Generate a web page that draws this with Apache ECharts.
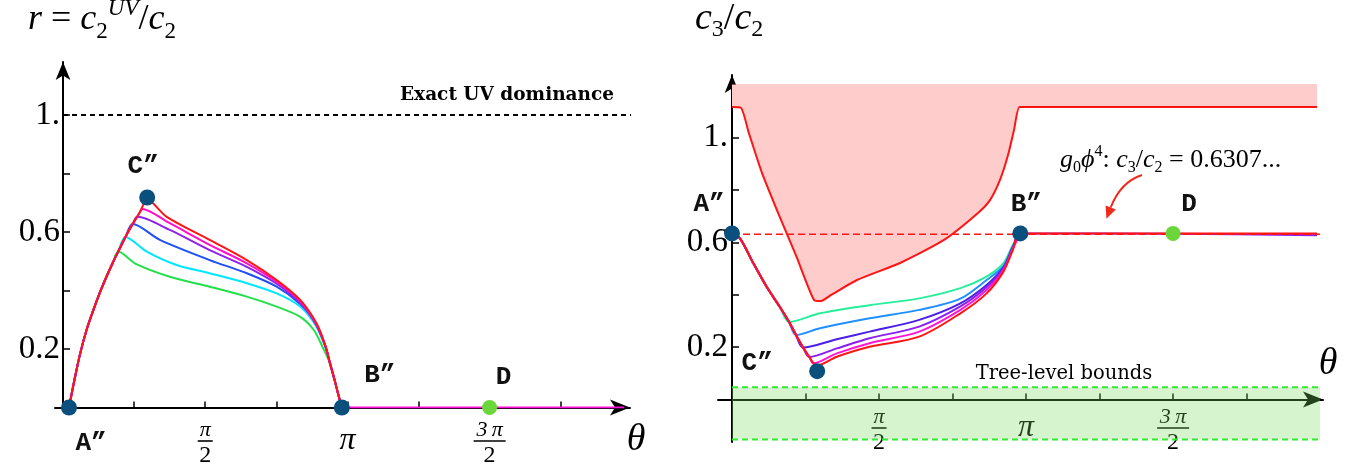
<!DOCTYPE html>
<html>
<head>
<meta charset="utf-8">
<script src="https://cdn.jsdelivr.net/npm/echarts@6/dist/echarts.min.js"></script>
<style>
  html, body { margin: 0; padding: 0; background: #fff; }
  #chart { width: 1364px; height: 469px; }
</style>
</head>
<body>
<div id="chart"></div>
<script>
const PI = Math.PI;

// ---------- shared θ axis ----------
const thetaTicks = [PI / 4, PI / 2, 3 * PI / 4, PI, 5 * PI / 4, 3 * PI / 2, 7 * PI / 4];
const thetaLabelValues = [PI / 2, PI, 3 * PI / 2];
const thetaLabelParts = [['π', '2'], ['π'], ['3\u2009π', '2']];

// ---------- vertical axes ----------
const yTicks = [0.2, 0.4, 0.6, 0.8, 1.0];
const yLabelValues = [0.2, 0.6, 1.0];
const yLabelTexts = ['0.2', '0.6', '1.'];

// ---------- left panel: r = c2^UV / c2 ----------
const rRise = [[0.066, 0], [0.13, 0.1], [0.19, 0.185], [0.26, 0.265], [0.335, 0.333], [0.41, 0.395],
  [0.48, 0.447], [0.55, 0.495], [0.61, 0.533], [0.69, 0.583], [0.77, 0.627], [0.85, 0.668], [0.93, 0.71]];
const rGreen = [[0.61, 0.533], [0.81, 0.49], [1.18, 0.447], [1.62, 0.413], [2.03, 0.379], [2.36, 0.345],
  [2.62, 0.31], [2.77, 0.265], [2.87, 0.205]];
const rCyan = [[0.69, 0.583], [0.925, 0.533], [1.256, 0.487], [1.62, 0.459], [2.03, 0.425], [2.36, 0.39],
  [2.62, 0.345], [2.80, 0.276], [2.90, 0.205]];
const rBlue = [[0.77, 0.627], [1.07, 0.573], [1.62, 0.504], [2.03, 0.459], [2.36, 0.413], [2.62, 0.354],
  [2.77, 0.299], [2.90, 0.207]];
const rPurple = [[0.82, 0.652], [1.18, 0.607], [1.62, 0.538], [2.03, 0.481], [2.36, 0.423], [2.62, 0.358],
  [2.80, 0.282], [2.90, 0.208]];
const rMagenta = [[0.87, 0.679], [1.18, 0.63], [1.62, 0.556], [2.03, 0.493], [2.36, 0.43], [2.62, 0.363],
  [2.80, 0.285], [2.90, 0.209]];
const rRed = [[0.93, 0.71], [1.146, 0.652], [1.62, 0.573], [2.03, 0.504], [2.36, 0.436], [2.62, 0.368],
  [2.80, 0.288], [2.90, 0.21]];
const rTail = [[2.95, 0.15], [3.0, 0.094], [3.04, 0.045], [3.08, 0]];
const rFlat = [[3.08, 0], [6.2, 0]];
const rUVLine = [[0, 1], [6.385, 1]];
const rDots = [[0.066, 0], [0.93, 0.718], [3.08, 0]];
const rDotNames = ['A”', 'C”', 'B”'];
const rPointD = [4.712, 0];

// ---------- right panel: c3 / c2 ----------
const cDescent = [[0.0, 0.634], [0.085, 0.615], [0.228, 0.52], [0.37, 0.43], [0.51, 0.354], [0.61, 0.296],
  [0.684, 0.246], [0.76, 0.198], [0.826, 0.162], [0.87, 0.138], [0.89, 0.128]];
const cGreen = [[0.61, 0.296], [0.94, 0.329], [1.47, 0.36], [2.0, 0.386], [2.44, 0.425], [2.72, 0.469],
  [2.9, 0.52], [3.0, 0.59], [3.08, 0.634]];
const cSky = [[0.684, 0.246], [0.94, 0.272], [1.47, 0.31], [2.0, 0.342], [2.44, 0.385], [2.72, 0.456],
  [2.9, 0.509], [3.0, 0.585], [3.08, 0.634]];
const cIndigo = [[0.76, 0.198], [1.12, 0.23], [1.47, 0.259], [2.0, 0.304], [2.44, 0.367], [2.72, 0.437],
  [2.9, 0.504], [3.0, 0.58], [3.08, 0.634]];
const cPurple = [[0.826, 0.162], [1.12, 0.195], [1.47, 0.234], [2.0, 0.278], [2.44, 0.355], [2.72, 0.428],
  [2.9, 0.5], [3.0, 0.578], [3.08, 0.634], [4.71, 0.633], [6.25, 0.627]];
const cMagenta = [[0.87, 0.138], [1.12, 0.176], [1.47, 0.215], [2.0, 0.259], [2.44, 0.342], [2.72, 0.418],
  [2.9, 0.494], [3.0, 0.575], [3.08, 0.634]];
const cRed = [[0.89, 0.128], [1.12, 0.163], [1.47, 0.201], [2.0, 0.24], [2.44, 0.329], [2.72, 0.405],
  [2.9, 0.488], [3.0, 0.57], [3.08, 0.634], [4.71, 0.634], [6.25, 0.634]];
const cUpper = [[0.0, 1.116], [0.096, 1.113], [0.18, 1.017], [0.32, 0.865], [0.51, 0.697], [0.69, 0.544],
  [0.876, 0.38], [0.95, 0.376], [1.06, 0.399], [1.335, 0.456], [1.795, 0.521], [2.265, 0.609],
  [2.628, 0.712], [2.756, 0.761], [2.863, 0.838], [2.949, 0.933], [3.013, 1.029], [3.072, 1.116],
  [3.2, 1.116], [6.25, 1.116]];
const cBandTop = 1.2;
const cPhi4 = 0.6307;
const cPhi4Span = [0, 2 * PI];
const treeBounds = [-0.153, 0.047];
const treeSpan = [0, 2 * PI];
const cDots = [[0.0, 0.634], [0.91, 0.108], [3.08, 0.634]];
const cDotNames = ['A”', 'C”', 'B”'];
const cPointD = [4.712, 0.634];
// annotation arrow: start, control, tip (θ, value)
const cArrow = [4.38, 0.857, 4.15, 0.83, 4.0, 0.69];

// ---------- styles ----------
const SERIF = 'Liberation Serif';
const DOT_BLUE = '#0b4f7d';
const DOT_GREEN = '#6ad63a';
const RED = '#ff1414';
const leftDotOffsets = [[22, 36], [-4, -31], [38, -32]];
const leftDOffset = [14, -30];
const rightDotOffsets = [[-23, -29], [-60, -8], [6, -29]];
const rightDOffset = [16, -29];

const dotLabelStyle = { fontFamily: 'Liberation Mono', fontWeight: 'bold', fontSize: 26, color: '#111' };

function buildCurve(base, own, tail) {
  const pts = base.filter(p => p[0] < own[0][0]).concat(own);
  return tail ? pts.concat(tail) : pts;
}

function fracLabel(parts) {
  if (!parts) return '';
  if (parts.length === 1) return '{p|' + parts[0] + '}';
  const bar = parts[0].length > 1 ? 'bw' : 'bn';
  return '{n|' + parts[0] + '}\n{' + bar + '| }\n{d|' + parts[1] + '}';
}

// axis labels of an on-zero axis are laid out from the grid edge, so margins
// are measured from there
function thetaAxis(gridIndex, min, max, margin) {
  return {
    type: 'value', gridIndex, min, max,
    splitLine: { show: false },
    axisLine: { show: true, onZero: true, symbol: ['none', 'arrow'], symbolSize: [12, 20],
      lineStyle: { color: '#000', width: 2 } },
    axisTick: { show: true, inside: true, length: 6, customValues: thetaTicks,
      lineStyle: { color: '#000', width: 1.5 } },
    axisLabel: {
      show: true, customValues: thetaLabelValues, margin, color: '#000',
      formatter: v => fracLabel(thetaLabelParts[thetaLabelValues.findIndex(t => Math.abs(t - v) < 1e-6)]),
      rich: {
        n: { fontFamily: SERIF, fontStyle: 'italic', fontSize: 22, lineHeight: 16, color: '#000' },
        bn: { width: 15, height: 1.6, lineHeight: 6, fontSize: 1, backgroundColor: '#000' },
        bw: { width: 32, height: 1.6, lineHeight: 6, fontSize: 1, backgroundColor: '#000' },
        d: { fontFamily: SERIF, fontSize: 24, lineHeight: 24, color: '#000' },
        p: { fontFamily: SERIF, fontStyle: 'italic', fontSize: 32, lineHeight: 38, color: '#000' }
      }
    }
  };
}

function valueAxis(gridIndex, min, max, margin) {
  return {
    type: 'value', gridIndex, min, max,
    splitLine: { show: false },
    axisLine: { show: true, onZero: true, symbol: ['none', 'arrow'], symbolSize: [11, 18],
      lineStyle: { color: '#000', width: 2 } },
    axisTick: { show: true, inside: true, length: 7, customValues: yTicks,
      lineStyle: { color: '#000', width: 1.5 } },
    axisLabel: {
      show: true, customValues: yLabelValues, margin, color: '#000',
      fontFamily: SERIF, fontSize: 33,
      formatter: v => yLabelTexts[yLabelValues.findIndex(t => Math.abs(t - v) < 1e-6)] || ''
    }
  };
}

function curve(axis, data, color, z) {
  return {
    type: 'line', xAxisIndex: axis, yAxisIndex: axis, data,
    showSymbol: false, symbol: 'none', smooth: 0.3, silent: true, z: z || 3,
    lineStyle: { color, width: 2 }
  };
}

function dots(axis, pts, names, offsets) {
  return {
    type: 'scatter', xAxisIndex: axis, yAxisIndex: axis, z: 6, silent: true,
    symbolSize: 16, itemStyle: { color: DOT_BLUE, opacity: 1 },
    data: pts.map((p, i) => ({
      value: p, name: names[i],
      label: Object.assign({ show: true, position: 'inside', offset: offsets[i], formatter: '{b}' }, dotLabelStyle)
    }))
  };
}

function greenDot(axis, p, offset) {
  return {
    type: 'scatter', xAxisIndex: axis, yAxisIndex: axis, z: 6, silent: true,
    symbolSize: 15, itemStyle: { color: DOT_GREEN, opacity: 1 },
    data: [{ value: p, name: 'D',
      label: Object.assign({ show: true, position: 'inside', offset, formatter: '{b}' }, dotLabelStyle) }]
  };
}

const leftSeries = [
  { type: 'line', xAxisIndex: 0, yAxisIndex: 0, data: rUVLine, symbol: 'none', silent: true, clip: false,
    lineStyle: { color: '#000', width: 2, type: [5, 4] } },
  curve(0, buildCurve(rRise, rGreen, rTail), '#22e04a'),
  curve(0, buildCurve(rRise, rCyan, rTail), '#00e6ff'),
  curve(0, buildCurve(rRise, rBlue, rTail), '#1f4ff5'),
  curve(0, buildCurve(rRise, rPurple, rTail), '#8f22e8'),
  curve(0, buildCurve(rRise, rMagenta, rTail), '#ff10c8'),
  curve(0, buildCurve(rRise, rRed, rTail), RED),
  curve(0, rFlat, '#ff10d8', 4),
  dots(0, rDots, rDotNames, leftDotOffsets),
  greenDot(0, rPointD, leftDOffset)
];

const rightSeries = [
  // excluded region between the upper bound and the band top
  { type: 'line', xAxisIndex: 1, yAxisIndex: 1, symbol: 'none', silent: true, z: 3, smooth: 0.2,
    data: cUpper, lineStyle: { color: RED, width: 2 },
    areaStyle: { origin: cBandTop, color: '#ffcccc', opacity: 1 } },
  { type: 'line', xAxisIndex: 1, yAxisIndex: 1, symbol: 'none', silent: true, z: 2,
    data: [[cUpper[0][0], cBandTop], [cUpper[cUpper.length - 1][0], cBandTop]],
    lineStyle: { color: '#f6a3a3', width: 1.2 } },
  // tree-level band
  { type: 'line', xAxisIndex: 1, yAxisIndex: 1, symbol: 'none', silent: true, z: 3,
    data: [[treeSpan[0], treeBounds[0]], [treeSpan[1], treeBounds[0]]],
    lineStyle: { color: '#35e835', width: 2, type: [6, 4] },
    markArea: { silent: true, itemStyle: { color: 'rgba(120,220,90,0.3)' },
      data: [[{ xAxis: treeSpan[0], yAxis: treeBounds[0] }, { xAxis: treeSpan[1], yAxis: treeBounds[1] }]] } },
  { type: 'line', xAxisIndex: 1, yAxisIndex: 1, symbol: 'none', silent: true, z: 3,
    data: [[treeSpan[0], treeBounds[1]], [treeSpan[1], treeBounds[1]]],
    lineStyle: { color: '#35e835', width: 2, type: [6, 4] } },
  curve(1, buildCurve(cDescent, cGreen), '#26ef9c'),
  curve(1, buildCurve(cDescent, cSky), '#1e90ff'),
  curve(1, buildCurve(cDescent, cIndigo), '#4b1fe6'),
  curve(1, buildCurve(cDescent, cPurple), '#8b1ff0'),
  curve(1, buildCurve(cDescent, cMagenta), '#ff16d2'),
  curve(1, buildCurve(cDescent, cRed), RED),
  { type: 'line', xAxisIndex: 1, yAxisIndex: 1, symbol: 'none', silent: true, z: 4,
    data: [[cPhi4Span[0], cPhi4], [cPhi4Span[1], cPhi4]],
    lineStyle: { color: RED, width: 1.6, type: [7, 4] } },
  // curved pointer to the g0 φ^4 line
  {
    type: 'custom', xAxisIndex: 1, yAxisIndex: 1, silent: true, z: 5,
    data: [cArrow],
    encode: { x: [0, 2, 4], y: [1, 3, 5] },
    renderItem: (params, api) => {
      const p0 = api.coord([api.value(0), api.value(1)]);
      const c = api.coord([api.value(2), api.value(3)]);
      const p1 = api.coord([api.value(4), api.value(5)]);
      let dx = p1[0] - c[0], dy = p1[1] - c[1];
      const len = Math.hypot(dx, dy); dx /= len; dy /= len;
      const hl = 12, hw = 5.5;
      const b = [p1[0] - dx * hl, p1[1] - dy * hl];
      return {
        type: 'group', children: [
          { type: 'bezierCurve', shape: { x1: p0[0], y1: p0[1], x2: b[0], y2: b[1], cpx1: c[0], cpy1: c[1] },
            style: { stroke: '#f02a1a', lineWidth: 2, fill: null } },
          { type: 'polygon', shape: { points: [p1, [b[0] - dy * hw, b[1] + dx * hw], [b[0] + dy * hw, b[1] - dx * hw]] },
            style: { fill: '#f02a1a' } }
        ]
      };
    }
  },
  dots(1, cDots, cDotNames, rightDotOffsets),
  greenDot(1, cPointD, rightDOffset)
];

const mathRich = (size, sub, color) => ({
  i: { fontFamily: SERIF, fontStyle: 'italic', fontSize: size, color },
  m: { fontFamily: SERIF, fontSize: size, color },
  s: { fontFamily: SERIF, fontSize: sub, verticalAlign: 'bottom', color },
  si: { fontFamily: SERIF, fontStyle: 'italic', fontSize: sub, verticalAlign: 'top', color },
  sp: { fontFamily: SERIF, fontSize: sub, verticalAlign: 'top', color }
});

const graphic = [
  { type: 'text', x: 28, y: 20, z: 10, style: {
      text: '{i|r}{m| = }{i|c}{s|2}{si|UV}{m|/}{i|c}{s|2}',
      textVerticalAlign: 'middle', lineHeight: 46, rich: mathRich(36, 23, '#000') } },
  { type: 'text', x: 695, y: 19, z: 10, style: {
      text: '{i|c}{s|3}{m|/}{i|c}{s|2}',
      textVerticalAlign: 'middle', lineHeight: 46, rich: mathRich(38, 24, '#000') } },
  { type: 'text', x: 636, y: 440, z: 10, style: {
      text: 'θ', fontFamily: SERIF, fontStyle: 'italic', fontSize: 38, fill: '#000',
      textAlign: 'center', textVerticalAlign: 'middle' } },
  { type: 'text', x: 1328, y: 364, z: 10, style: {
      text: 'θ', fontFamily: SERIF, fontStyle: 'italic', fontSize: 38, fill: '#000',
      textAlign: 'center', textVerticalAlign: 'middle' } },
  { type: 'text', x: 400, y: 95, z: 10, style: {
      text: 'Exact UV dominance', fontFamily: 'DejaVu Serif', fontWeight: 'bold', fontSize: 18.5, fill: '#000',
      textAlign: 'left', textVerticalAlign: 'middle' } },
  { type: 'text', x: 1064, y: 374, z: 10, style: {
      text: 'Tree-level bounds', fontFamily: 'DejaVu Serif', fontSize: 19.5, fill: '#000',
      textAlign: 'center', textVerticalAlign: 'middle' } },
  { type: 'text', x: 1060, y: 160, z: 10, style: {
      text: '{i|g}{s|0}{i|ϕ}{sp|4}{m|: }{i|c}{s|3}{m|/}{i|c}{s|2}{m| = 0.6307...}',
      textVerticalAlign: 'middle', lineHeight: 32, rich: mathRich(26, 16, '#f03326') } }
];

const option = {
  animation: false,
  backgroundColor: '#fff',
  grid: [
    { left: 55, top: 62, width: 575, height: 345.5, containLabel: false, outerBoundsMode: 'none' },
    { left: 718, top: 75, width: 605, height: 367, containLabel: false, outerBoundsMode: 'none' }
  ],
  xAxis: [thetaAxis(0, -0.0884, 6.263, 14.5), thetaAxis(1, -0.1496, 6.314, -33)],
  yAxis: [valueAxis(0, 0, 1.1812, -5), valueAxis(1, -0.1622, 1.2385, -10)],
  graphic,
  series: leftSeries.concat(rightSeries)
};

const chart = echarts.init(document.getElementById('chart'), null, { renderer: 'canvas' });
chart.setOption(option);
</script>
</body>
</html>
